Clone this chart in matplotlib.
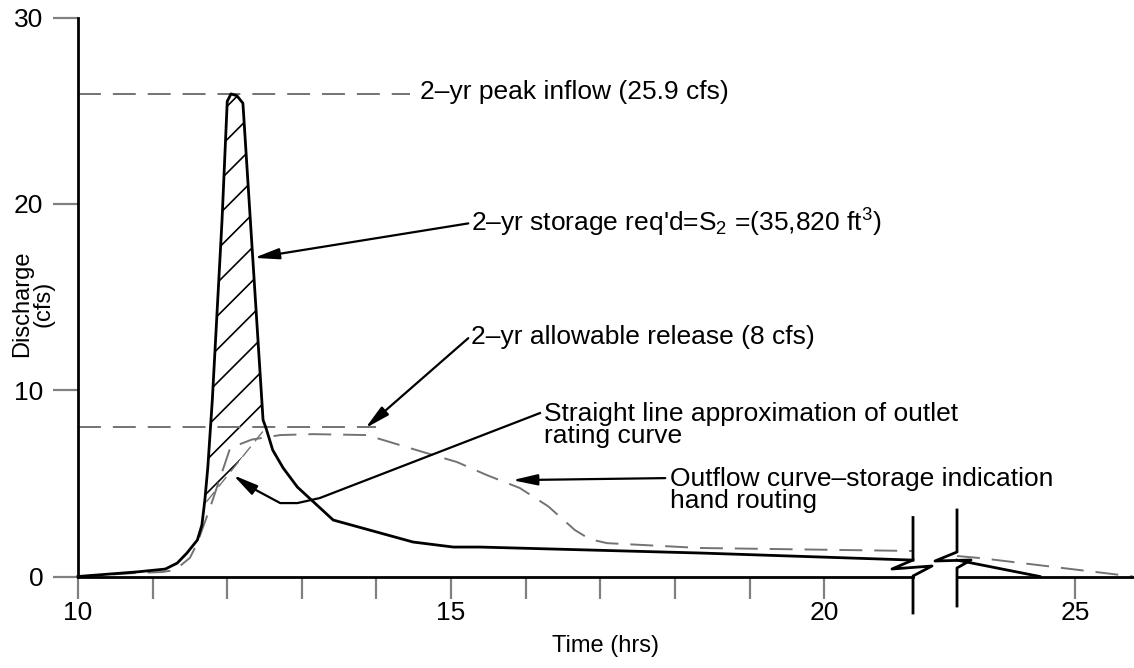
import numpy as np
import matplotlib.pyplot as plt
from matplotlib.lines import Line2D

plt.rcParams['font.family'] = ['Liberation Sans Narrow', 'Liberation Sans', 'DejaVu Sans']
plt.rcParams['mathtext.fontset'] = 'custom'
plt.rcParams['mathtext.rm'] = 'Liberation Sans'
plt.rcParams['mathtext.it'] = 'Liberation Sans'
plt.rcParams['hatch.linewidth'] = 1.2
plt.rcParams['lines.scale_dashes'] = False

# 2-yr inflow hydrograph (hrs, cfs), before and after the time break
inflow_t = [10.0, 10.8, 11.17, 11.33, 11.46, 11.60, 11.66, 11.70, 11.74, 11.80, 11.93,
            12.00, 12.05, 12.13, 12.21, 12.31, 12.48, 12.52, 12.61, 12.75, 12.94, 13.42,
            14.49, 15.03, 15.39, 18.34, 21.19]
inflow_q = [0.0, 0.25, 0.4, 0.72, 1.26, 1.96, 2.76, 4.1, 5.87, 9.47, 19.1,
            25.5, 25.9, 25.8, 25.4, 19.1, 8.4, 7.96, 6.78, 5.82, 4.8, 3.03,
            1.85, 1.58, 1.58, 1.26, 0.88]
inflow_t_late = [23.42, 24.53]
inflow_q_late = [0.88, 0.0]

# routed outflow (storage indication hand routing)
outflow_t = [10.0, 10.79, 11.13, 11.30, 11.50, 11.60, 11.77, 12.04, 12.33, 12.71, 13.15,
             13.87, 14.49, 15.08, 15.48, 15.92, 16.30, 16.66, 16.86, 17.09, 18.34, 21.19]
outflow_q = [0.0, 0.19, 0.24, 0.35, 1.0, 1.8, 3.7, 6.9, 7.35, 7.59, 7.64,
             7.59, 6.84, 6.14, 5.44, 4.75, 3.77, 2.49, 2.0, 1.79, 1.53, 1.37]
outflow_t_late = [23.42, 23.73, 25.78]
outflow_q_late = [1.1, 0.99, 0.0]

# straight line approximation of outlet rating curve
rating_t = [11.72, 12.52]
rating_q = [4.0, 8.0]

peak_inflow = 25.9
allowable = 8.0

W, H = 1134, 668
Y0, Y30 = 576.5, 17.5
fig = plt.figure(figsize=(W / 100, H / 100), dpi=100)


def rect(x0, x1):
    return [x0 / W, (H - Y0) / H, (x1 - x0) / W, (Y0 - Y30) / H]


ax = fig.add_axes(rect(78, 913))
ax2 = fig.add_axes(rect(957, 1133))
ax.set_xlim(10, 21.19)
ax2.set_xlim(23.42, 25.78)
for a in (ax, ax2):
    a.set_ylim(0, 30)
    a.patch.set_alpha(0)
    for s in ('top', 'right'):
        a.spines[s].set_visible(False)
    a.spines['bottom'].set_linewidth(2)
    a.tick_params(axis='x', length=16, width=1.6, color='0.5', labelsize=19, pad=2)
ax.spines['left'].set_linewidth(2)
ax.tick_params(axis='y', length=18, width=1.6, color='0.5', labelsize=19, pad=7)
ax2.spines['left'].set_visible(False)
ax2.set_yticks([])

hours = list(range(10, 21))
ax.set_xticks(hours, [str(h) if h % 5 == 0 else '' for h in hours])
ax.set_yticks([0, 10, 20, 30])
ax2.set_xticks([25], ['25'])

dash = dict(color='0.45', lw=1.4, dashes=(16.5, 8.6))

# hatched storage volume
tt = np.linspace(11.70, 12.52, 300)
top = np.interp(tt, inflow_t, inflow_q)
bot = np.interp(tt, rating_t, rating_q)
ax.fill_between(tt, bot, top, where=top >= bot, facecolor='none', edgecolor='black',
                hatch='/', linewidth=0)

ax.plot([10, 14.45], [peak_inflow, peak_inflow], **dash)
ax.plot([10, 14.0], [allowable, allowable], **dash)
ax.plot(rating_t, rating_q, color='0.45', lw=1.0, dashes=(9, 5))
ax.plot(outflow_t, outflow_q, clip_on=False, **dash)
ax2.plot(outflow_t_late, outflow_q_late, clip_on=False, **dash)
ax.plot(inflow_t, inflow_q, color='black', lw=2, clip_on=False)
ax2.plot(inflow_t_late, inflow_q_late, color='black', lw=2, clip_on=False)

# break symbols on the time axis (pixel offsets from the axis ends)
def brk(xb, pts):
    xs = [(xb + dx) / W for dx, dy in pts]
    ys = [(H - (Y0 + dy)) / H for dx, dy in pts]
    fig.add_artist(Line2D(xs, ys, transform=fig.transFigure, color='black', lw=2))

brk(913, [(0, -59), (0, -16.5), (-21, -7.5), (19, -10.5), (0, -0.5), (0, 36.5)])
brk(957, [(0, -66.5), (0, -24.5), (-22, -15.5), (14, -16.5), (0, -8.5), (0, 29.5)])

arrow = dict(arrowstyle='-|>,head_length=1.5,head_width=0.33', color='black', lw=1.6,
             shrinkA=0, shrinkB=0, mutation_scale=10)
fs = 19

ax.text(14.58, 25.98, '2–yr peak inflow (25.9 cfs)', fontsize=fs, va='center', clip_on=False)

ax.text(15.27, 19.0, "2–yr storage req'd=S$_{2}$ =(35,820 ft$^{3}$)", fontsize=fs,
        va='center', clip_on=False)
ax.annotate('', xy=(12.36, 17.1), xytext=(15.23, 18.95), arrowprops=arrow,
            annotation_clip=False)

ax.text(15.27, 12.84, '2–yr allowable release (8 cfs)', fontsize=fs, va='center',
        clip_on=False)
ax.annotate('', xy=(13.85, 7.96), xytext=(15.23, 12.79), arrowprops=arrow,
            annotation_clip=False)

ax.text(16.24, 8.15, 'Straight line approximation of outlet\nrating curve', fontsize=fs,
        va='center', linespacing=0.9, clip_on=False)
ax.plot([16.19, 13.24, 12.94, 12.71, 12.31], [8.77, 4.21, 3.94, 3.94, 4.80],
        color='black', lw=1.6)
ax.annotate('', xy=(12.08, 5.44), xytext=(12.31, 4.80), arrowprops=arrow,
            annotation_clip=False)

ax.text(17.93, 4.66, 'Outflow curve–storage indication\nhand routing', fontsize=fs,
        va='center', linespacing=0.9, clip_on=False)
ax.annotate('', xy=(15.82, 5.17), xytext=(17.87, 5.28), arrowprops=arrow,
            annotation_clip=False)

fig.text(605 / W, 1 - 646 / H, 'Time (hrs)', fontsize=17, ha='center', va='center')
fig.text(33 / W, 1 - 304 / H, 'Discharge\n(cfs)', fontsize=17, ha='center', va='center',
         rotation=90, linespacing=0.95)

fig.savefig('out.png', dpi=100)
